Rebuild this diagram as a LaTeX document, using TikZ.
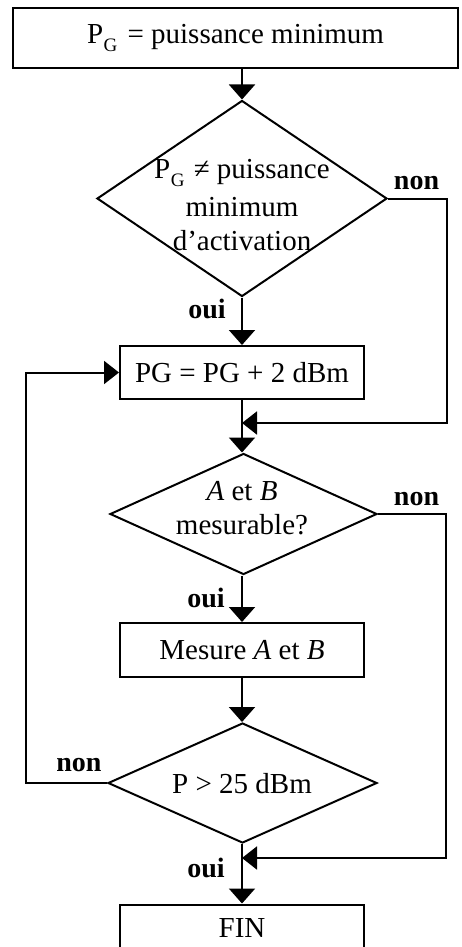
\documentclass[tikz,border=0pt]{standalone}
\usepackage{fontspec}
\setmainfont{Liberation Serif}
\usetikzlibrary{arrows.meta,shapes.geometric}
\begin{document}
\begin{tikzpicture}[x=1pt,y=-1pt,
  line width=2pt,
  every node/.style={font=\fontsize{29}{35}\selectfont},
  boxnode/.style={draw,rectangle,minimum width=244pt,inner sep=0pt},
  dia/.style={draw,diamond,inner sep=0pt},
  lbl/.style={font=\fontsize{28}{30}\selectfont\bfseries},
  arr/.style={-{Triangle[width=26pt,length=15pt]}},
  arrs/.style={-{Triangle[width=23pt,length=15pt]}}]
\useasboundingbox (0,0) rectangle (461,947);
\clip (0,0) rectangle (461,947);
% boxes
\node[boxnode,minimum width=445pt,minimum height=60pt] (b1) at (235.5,38) {P\kern0.5pt\raisebox{-0.3em}{\fontsize{19}{19}\selectfont G}\kern3pt{} = puissance minimum};
\node[boxnode,minimum height=53pt] (b2) at (242,372.5) {PG = PG + 2 dBm};
\node[boxnode,minimum height=54pt] (b3) at (242,650) {Mesure \textit{A} et \textit{B}};
\node[boxnode,minimum height=60pt,anchor=north] (b4) at (242,903.5) {};
\node (t4) at (242,928) {FIN};
% diamonds
\node[dia,minimum width=290pt,minimum height=196pt] (d1) at (242,198.5) {};
\node[dia,minimum width=267pt,minimum height=121pt] (d2) at (243.5,514) {};
\node[dia,minimum width=269pt,minimum height=120pt] (d3) at (242.5,783) {};
% diamond texts
\node[anchor=base] (t1a) at (242,178) {P\kern0.5pt\raisebox{-0.3em}{\fontsize{19}{19}\selectfont G}\kern2pt{} ≠ puissance};
\node[anchor=base] (t1b) at (242,216) {minimum};
\node[anchor=base] (t1c) at (242,250) {d’activation};
\node[anchor=base] (t2a) at (242,500) {\textit{A} et \textit{B}};
\node[anchor=base] (t2b) at (242,534) {mesurable?};
\node[anchor=base] (t3) at (242,793) {P > 25 dBm};
% labels
\node[lbl,anchor=base] (n1) at (416.5,189) {non};
\node[lbl,anchor=base] (o1) at (207,318) {oui};
\node[lbl,anchor=base] (n2) at (416.5,505) {non};
\node[lbl,anchor=base] (o2) at (206,607) {oui};
\node[lbl,anchor=base] (n3) at (79,771) {non};
\node[lbl,anchor=base] (o3) at (206,877) {oui};
% coordinates
\coordinate (r1) at (447,423);
\coordinate (m1) at (242,423);
\coordinate (r2) at (446,858);
\coordinate (m2) at (242,858);
\coordinate (l1) at (26,372.5);
% connectors
\draw[arr] (d1.north |- b1.south) -- (d1.north);
\draw[arr] (d1.south) -- (b2.north);
\draw[arr] (b2.south) -- (d2.north -| b2.south);
\draw[arr] (d2.south -| b3.north) -- (b3.north);
\draw[arr] (b3.south) -- (d3.north -| b3.south);
\draw[arr] (d3.south -| b4.north) -- (b4.north);
\draw[arrs] (d1.east) -| (r1) -- (m1);
\draw[arrs] (d2.east) -| (r2) -- (m2);
\draw[arrs] (d3.west) -| (l1) -- (b2.west);
\end{tikzpicture}
\end{document}
